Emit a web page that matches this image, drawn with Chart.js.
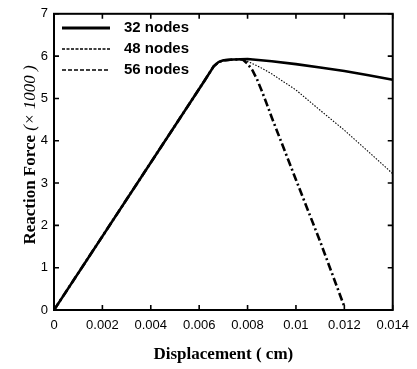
<!DOCTYPE html>
<html>
<head>
<meta charset="utf-8">
<script src="https://cdn.jsdelivr.net/npm/chart.js@4.4.1/dist/chart.umd.min.js"></script>
<style>
    html, body { margin: 0; padding: 0; background: #fff; }
    #wrap { width: 417px; height: 369px; }
</style>
</head>
<body>
<div id="wrap"><canvas id="myChart" width="417" height="369"></canvas></div>
<script>
    // axis ticks
    const xTicks = [0, 0.002, 0.004, 0.006, 0.008, 0.01, 0.012, 0.014];
    const xTickLabels = ['0', '0.002', '0.004', '0.006', '0.008', '0.01', '0.012', '0.014'];
    const yTicks = [0, 1, 2, 3, 4, 5, 6, 7];
    const seriesNames = ['32 nodes', '48 nodes', '56 nodes'];

    // values (force in x1000)
    const disp32 = [0, 0.0062, 0.0066, 0.0068, 0.007, 0.0074, 0.008, 0.009, 0.01, 0.011, 0.012, 0.013, 0.014];
    const force32 = [0, 5.4, 5.76, 5.86, 5.9, 5.92, 5.93, 5.88, 5.81, 5.73, 5.65, 5.55, 5.44];

    const disp48 = [0, 0.0062, 0.0066, 0.0068, 0.007, 0.0074, 0.0078, 0.0081, 0.0084, 0.0087, 0.009, 0.0095, 0.01, 0.011, 0.012, 0.013, 0.014];
    const force48 = [0, 5.4, 5.76, 5.86, 5.9, 5.92, 5.92, 5.85, 5.77, 5.68, 5.58, 5.39, 5.2, 4.72, 4.25, 3.74, 3.22];

    const disp56 = [0, 0.0062, 0.0066, 0.0068, 0.007, 0.0074, 0.0078, 0.008, 0.0082, 0.0084, 0.0086, 0.0088, 0.009, 0.01, 0.011, 0.012];
    const force56 = [0, 5.4, 5.76, 5.86, 5.9, 5.92, 5.92, 5.82, 5.67, 5.44, 5.16, 4.86, 4.55, 3.08, 1.62, 0.08];

    const toPoints = (xs, ys) => xs.map((x, i) => ({ x: x, y: ys[i] }));

    const styles = [
        { width: 2.6, dash: [] },
        { width: 1.1, dash: [1.5, 1.5] },
        { width: 2.6, dash: [8, 3, 2, 3] }
    ];
    const legendDash = [[], [3, 1.5], [4, 2]];

    const framePlugin = {
        id: 'frame',
        afterDraw(chart) {
            const ctx = chart.ctx;
            const a = chart.chartArea;
            const xs = chart.scales.x;
            const ys = chart.scales.y;
            ctx.save();
            ctx.strokeStyle = '#000';
            ctx.lineWidth = 2;
            ctx.setLineDash([]);
            ctx.strokeRect(a.left, a.top, a.right - a.left, a.bottom - a.top);
            ctx.lineWidth = 1.6;
            ctx.beginPath();
            xTicks.forEach(v => {
                const px = xs.getPixelForValue(v);
                ctx.moveTo(px, a.bottom); ctx.lineTo(px, a.bottom - 5);
                ctx.moveTo(px, a.top); ctx.lineTo(px, a.top + 5);
            });
            yTicks.forEach(v => {
                const py = ys.getPixelForValue(v);
                ctx.moveTo(a.left, py); ctx.lineTo(a.left + 5, py);
                ctx.moveTo(a.right, py); ctx.lineTo(a.right - 5, py);
            });
            ctx.stroke();

            // legend inside the plot
            ctx.font = 'bold 15px "Liberation Sans", Arial, sans-serif';
            ctx.textBaseline = 'middle';
            ctx.fillStyle = '#000';
            seriesNames.forEach((name, i) => {
                const y = 28 + i * 21;
                ctx.beginPath();
                ctx.lineWidth = i === 0 ? 3 : 1.6;
                ctx.setLineDash(legendDash[i]);
                ctx.moveTo(62, y); ctx.lineTo(110, y);
                ctx.stroke();
                ctx.fillText(name, 124, y);
            });
            ctx.setLineDash([]);

            // y axis title with mixed fonts
            const boldF = 'bold 17px "Liberation Serif", "Times New Roman", serif';
            const italF = 'italic 17px "Liberation Serif", "Times New Roman", serif';
            const p1 = 'Reaction Force ';
            const p2 = '(\u00d7 1000 )';
            ctx.font = boldF;
            const w1 = ctx.measureText(p1).width;
            ctx.font = italF;
            const w2 = ctx.measureText(p2).width;
            ctx.translate(31, 155);
            ctx.rotate(-Math.PI / 2);
            ctx.textBaseline = 'middle';
            ctx.textAlign = 'left';
            ctx.font = boldF;
            ctx.fillText(p1, -(w1 + w2) / 2, 0);
            ctx.font = italF;
            ctx.fillText(p2, -(w1 + w2) / 2 + w1, 0);
            ctx.restore();
        }
    };

    const ctx = document.getElementById('myChart').getContext('2d');
    const myChart = new Chart(ctx, {
        type: 'line',
        data: {
            datasets: [
                { label: seriesNames[0], data: toPoints(disp32, force32) },
                { label: seriesNames[1], data: toPoints(disp48, force48) },
                { label: seriesNames[2], data: toPoints(disp56, force56) }
            ].map((d, i) => Object.assign(d, {
                borderColor: '#000',
                borderWidth: styles[i].width,
                borderDash: styles[i].dash,
                pointRadius: 0,
                fill: false,
                tension: 0
            }))
        },
        options: {
            responsive: false,
            animation: false,
            devicePixelRatio: 1,
            layout: { padding: { left: 0, right: 20, top: 11, bottom: 0 } },
            plugins: {
                legend: { display: false },
                tooltip: { enabled: false }
            },
            scales: {
                x: {
                    type: 'linear',
                    min: 0,
                    max: 0.014,
                    afterBuildTicks: s => { s.ticks = xTicks.map(v => ({ value: v })); },
                    afterFit: s => { s.height = 59; },
                    grid: { display: false, drawTicks: false },
                    border: { display: false },
                    ticks: {
                        padding: 8,
                        color: '#000',
                        font: { family: '"Liberation Sans", Arial, sans-serif', size: 13 },
                        callback: (v, i) => xTickLabels[i]
                    },
                    title: {
                        display: true,
                        text: 'Displacement ( cm)',
                        color: '#000',
                        font: { family: '"Liberation Serif", "Times New Roman", serif', size: 17, weight: 'bold' },
                        padding: { top: 8 }
                    }
                },
                y: {
                    type: 'linear',
                    min: 0,
                    max: 7,
                    afterBuildTicks: s => { s.ticks = yTicks.map(v => ({ value: v })); },
                    afterFit: s => { s.width = 54; },
                    grid: { display: false, drawTicks: false },
                    border: { display: false },
                    ticks: {
                        padding: 6,
                        color: '#000',
                        font: { family: '"Liberation Sans", Arial, sans-serif', size: 13 }
                    }
                }
            }
        },
        plugins: [framePlugin]
    });
</script>
</body>
</html>
